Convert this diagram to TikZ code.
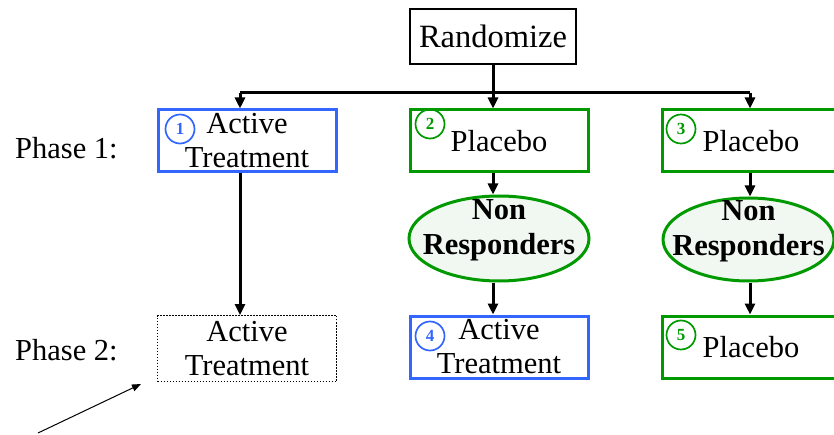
\documentclass[tikz,border=0pt]{standalone}
\usepackage{fontspec}
\setmainfont{Liberation Serif}
\usetikzlibrary{shapes.geometric,arrows.meta}
\definecolor{armblue}{RGB}{51,102,255}
\definecolor{armgreen}{RGB}{0,153,0}
\definecolor{nrfill}{RGB}{241,248,241}
\newcommand\armnum[4]{\node[numcirc, draw=#4, text=#4] (#1) at (#2) {#3};}

\begin{document}
\begin{tikzpicture}[x=1pt, y=-1pt,
    every node/.style={font=\fontsize{30.5}{34}\selectfont},
    armbox/.style={draw, line width=3pt, minimum width=178pt, minimum height=62pt, align=center, inner sep=0pt},
    nrell/.style={ellipse, draw=armgreen, fill=nrfill, line width=3pt, inner sep=0pt},
    nrtext/.style={align=center, font=\fontsize{30.5}{35}\selectfont\bfseries, inner sep=0pt},
    numcirc/.style={circle, line width=1.7pt, minimum size=29pt, inner sep=0pt, font=\fontsize{17}{17}\selectfont\bfseries},
    line/.style={line width=3pt},
    arr/.style={line width=3pt, -{Triangle[width=10pt,length=11pt]}}]
    \clip (0,0) rectangle (834,435);

    % Randomize and phase labels
    \node[draw, line width=2.5pt, minimum width=166pt, minimum height=55pt, inner sep=0pt, font=\fontsize{32.5}{34}\selectfont] (rand) at (493,36.5) {Randomize};
    \node[anchor=west, inner sep=0pt] (ph1) at (15,148) {Phase 1:};
    \node[anchor=west, inner sep=0pt] (ph2) at (15,350) {Phase 2:};

    % Phase 1 arms
    \node[armbox, draw=armblue] (box1) at (247,141) {Active\\Treatment};
    \node[armbox, draw=armgreen] (box2) at (499,141) {Placebo};
    \node[armbox, draw=armgreen] (box3) at (751,141) {Placebo};

    % Non responders
    \node[nrell, minimum width=180pt, minimum height=85pt] (nr2) at (499,238.5) {};
    \node[nrtext, yshift=8pt] (nrt2) at (nr2) {Non\\Responders};
    \node[nrell, minimum width=171pt, minimum height=83pt] (nr3) at (748.5,239.5) {};
    \node[nrtext, yshift=8pt] (nrt3) at (nr3) {Non\\Responders};

    % Phase 2 arms
    \node[armbox, draw, dash pattern=on 1.5pt off 1.5pt, line width=0.9pt, minimum width=179pt, minimum height=66pt] (dot) at (247,348.5) {Active\\Treatment};
    \node[armbox, draw=armblue] (box4) at (499,347) {Active\\Treatment};
    \node[armbox, draw=armgreen] (box5) at (751,347) {Placebo};

    % Numbers
    \armnum{n1}{180,129}{1}{armblue}
    \armnum{n2}{430,124}{2}{armgreen}
    \armnum{n3}{681,129}{3}{armgreen}
    \armnum{n4}{430,336}{4}{armblue}
    \armnum{n5}{681,335}{5}{armgreen}

    % Connectors
    \coordinate (lft) at (240,93);
    \coordinate (rgt) at (750,93);
    \draw[line] (rand.south) -- (rand |- lft);
    \draw[line] (lft) -- (rgt);
    \draw[arr] (lft) -- (lft |- box1.north);
    \draw[arr] (rand |- lft) -- (rand |- box2.north);
    \draw[arr] (rgt) -- (rgt |- box3.north);

    \draw[arr] (lft |- box1.south) -- (lft |- dot.north);
    \draw[arr] (rand |- box2.south) -- (rand |- nr2.north);
    \draw[arr] (rand |- nr2.south) -- (rand |- box4.north);
    \draw[arr] (rgt |- box3.south) -- (rgt |- nr3.north);
    \draw[arr] (rgt |- nr3.south) -- (rgt |- box5.north);

    \coordinate (ptrs) at (38,433);
    \coordinate (ptre) at (141,384);
    \draw[line width=1pt, -{Triangle[width=7pt,length=9pt]}] (ptrs) -- (ptre);
\end{tikzpicture}
\end{document}
